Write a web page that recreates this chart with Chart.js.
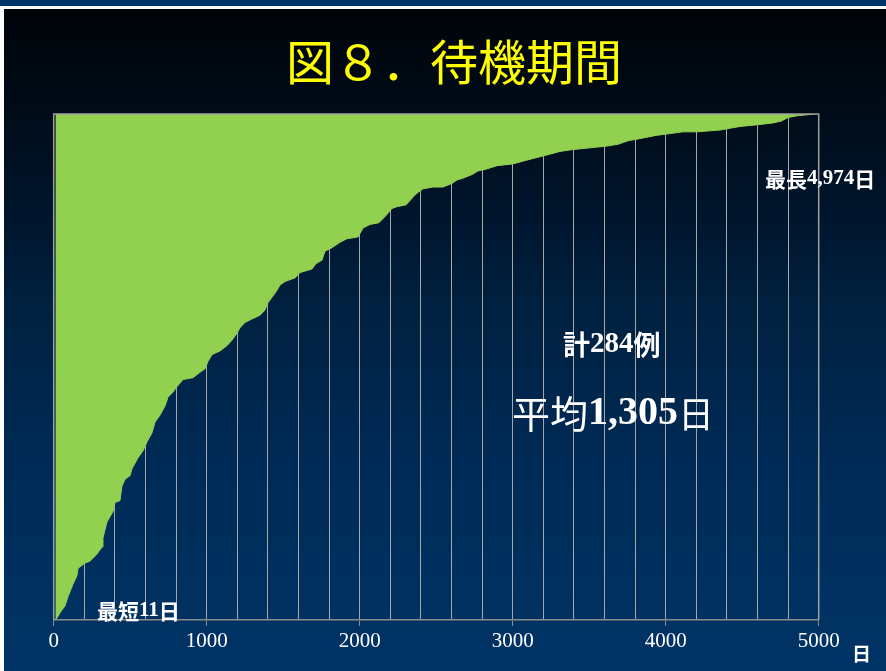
<!DOCTYPE html>
<html>
<head>
<meta charset="utf-8">
<script src="https://cdn.jsdelivr.net/npm/chart.js@4/dist/chart.umd.min.js"></script>
<style>
html,body{margin:0;padding:0;background:#001a33;overflow:hidden}
#wrap{width:886px;height:671px;position:relative}
canvas{display:block}
</style>
</head>
<body>
<div id="wrap"><canvas id="c" width="886" height="671"></canvas></div>
<script>
// Waiting period (days) read along the staircase edge, and the number of cases at that point
const waitDays = [11, 28, 41, 74, 93, 126, 152, 159, 205, 237, 283, 316, 322, 348, 368, 388, 401, 433, 446, 466,
  499, 512, 551, 584, 610, 642, 662, 695, 727, 747, 780, 806, 845, 910, 956, 989, 1008, 1035, 1087, 1133,
  1165, 1198, 1218, 1250, 1296, 1348, 1381, 1400, 1426, 1459, 1479, 1512, 1577, 1610, 1688, 1714, 1754, 1773, 1819, 1871,
  1917, 1989, 2022, 2067, 2126, 2172, 2211, 2244, 2303, 2335, 2355, 2381, 2414, 2479, 2544, 2603, 2636, 2675, 2734, 2773,
  2825, 2897, 3002, 3087, 3178, 3224, 3309, 3388, 3505, 3616, 3688, 3754, 3819, 3937, 4028, 4113, 4205, 4355, 4420, 4486,
  4603, 4701, 4754, 4799, 4858, 4974];
const caseCount = [0, 2, 4, 8, 13, 20, 25, 29, 32, 33, 37, 41, 46, 55, 58, 61, 66, 67, 75, 79,
  81, 85, 91, 95, 100, 105, 111, 115, 120, 125, 128, 131, 135, 136, 139, 141, 145, 149, 151, 154,
  157, 161, 164, 167, 169, 171, 174, 178, 181, 185, 188, 190, 192, 195, 197, 200, 202, 207, 209, 212,
  214, 215, 220, 222, 223, 227, 231, 232, 233, 236, 238, 240, 242, 243, 243, 245, 247, 248, 250, 252,
  253, 255, 256, 258, 260, 261, 263, 264, 265, 266, 267, 269, 270, 272, 273, 274, 274, 275, 276, 277,
  278, 279, 280, 282, 283, 284];
const xTickLabels = [0, 1000, 2000, 3000, 4000, 5000];
const totalCases = 284;
const chartTitle = '図８．待機期間';
const unitLabel = '日';
const maxNote = ['最長', '4,974', '日'];
const minNote = ['最短', '11', '日'];
const countNote = ['計', '284', '例'];
const meanNote = ['平均', '1,305', '日'];

const JP = "'Noto Sans CJK JP'";
const SERIF = "'Liberation Serif'";

function drawParts(ctx, parts, x, y) {
  let cx = x;
  for (const p of parts) {
    ctx.font = p.font;
    ctx.fillText(p.text, cx, y);
    cx += ctx.measureText(p.text).width;
  }
}

const decor = {
  id: 'decor',
  beforeDraw(chart) {
    const ctx = chart.ctx;
    const W = chart.width, H = chart.height;
    ctx.save();
    const g = ctx.createLinearGradient(0, 10, 0, H);
    g.addColorStop(0.0, '#000409');
    g.addColorStop(0.12, '#000a14');
    g.addColorStop(0.29, '#00142a');
    g.addColorStop(0.44, '#00203f');
    g.addColorStop(0.67, '#002a55');
    g.addColorStop(0.92, '#003262');
    g.addColorStop(1.0, '#003366');
    ctx.fillStyle = g;
    ctx.fillRect(0, 0, W, H);
    ctx.fillStyle = '#003366';
    ctx.fillRect(0, 0, W, 6);
    ctx.fillStyle = '#ffffff';
    ctx.fillRect(0, 6, W, 3);
    ctx.fillRect(0, 6, 4, H - 6);
    // title
    ctx.fillStyle = '#ffff00';
    ctx.textAlign = 'center';
    ctx.textBaseline = 'middle';
    ctx.font = "48px " + JP;
    ctx.fillText(chartTitle, 454, 62);
    ctx.restore();
  },
  afterDatasetsDraw(chart) {
    const ctx = chart.ctx;
    const a = chart.chartArea;
    ctx.save();
    ctx.strokeStyle = '#a0a0a0';
    ctx.lineWidth = 1.5;
    ctx.beginPath();
    ctx.moveTo(a.left, a.bottom);
    ctx.lineTo(a.left, a.top);
    ctx.lineTo(a.right, a.top);
    ctx.lineTo(a.right, a.bottom);
    ctx.stroke();
    ctx.fillStyle = '#ffffff';
    ctx.textAlign = 'left';
    ctx.textBaseline = 'middle';
    drawParts(ctx, [
      {text: maxNote[0], font: "bold 21px " + JP},
      {text: maxNote[1], font: "bold 21px " + SERIF},
      {text: maxNote[2], font: "bold 21px " + JP}], 765, 179);
    drawParts(ctx, [
      {text: minNote[0], font: "bold 21px " + JP},
      {text: minNote[1], font: "bold 21px " + SERIF},
      {text: minNote[2], font: "bold 21px " + JP}], 97, 611);
    drawParts(ctx, [
      {text: countNote[0], font: "bold 27px " + JP},
      {text: countNote[1], font: "bold 29px " + SERIF},
      {text: countNote[2], font: "bold 27px " + JP}], 563, 345);
    drawParts(ctx, [
      {text: meanNote[0], font: "38px " + JP},
      {text: meanNote[1], font: "bold 40px " + SERIF},
      {text: meanNote[2], font: "36px " + JP}], 512, 414);
    ctx.font = "bold 19px " + JP;
    ctx.fillText(unitLabel, 852, 654);
    ctx.restore();
  }
};

const points = waitDays.map((d, i) => ({x: d, y: caseCount[i]}));

new Chart(document.getElementById('c'), {
  type: 'line',
  data: {
    datasets: [{
      data: points,
      borderColor: '#92d050',
      backgroundColor: '#92d050',
      borderWidth: 1,
      pointRadius: 0,
      tension: 0,
      fill: 'end'
    }]
  },
  options: {
    responsive: false,
    animation: false,
    devicePixelRatio: 1,
    layout: {padding: {left: 53.7, right: 67.3, top: 114, bottom: 0}},
    plugins: {legend: {display: false}, tooltip: {enabled: false}, title: {display: false}},
    scales: {
      x: {
        type: 'linear',
        min: 0,
        max: 5000,
        afterFit(s) { s.height = 51; },
        ticks: {
          stepSize: 200,
          autoSkip: false,
          maxRotation: 0,
          padding: 3,
          color: '#ffffff',
          font: {family: 'Liberation Serif', size: 21},
          callback: v => xTickLabels.includes(v) ? String(v) : ''
        },
        grid: {
          color: '#a6a6a6',
          lineWidth: 1,
          tickLength: 6,
          tickColor: c => (c.tick && c.tick.value % 1000 === 0) ? '#8c8c8c' : 'rgba(0,0,0,0)'
        },
        border: {color: '#8c8c8c', width: 1.5}
      },
      y: {
        type: 'linear',
        min: 0,
        max: totalCases,
        display: false
      }
    }
  },
  plugins: [decor]
});
</script>
</body>
</html>
